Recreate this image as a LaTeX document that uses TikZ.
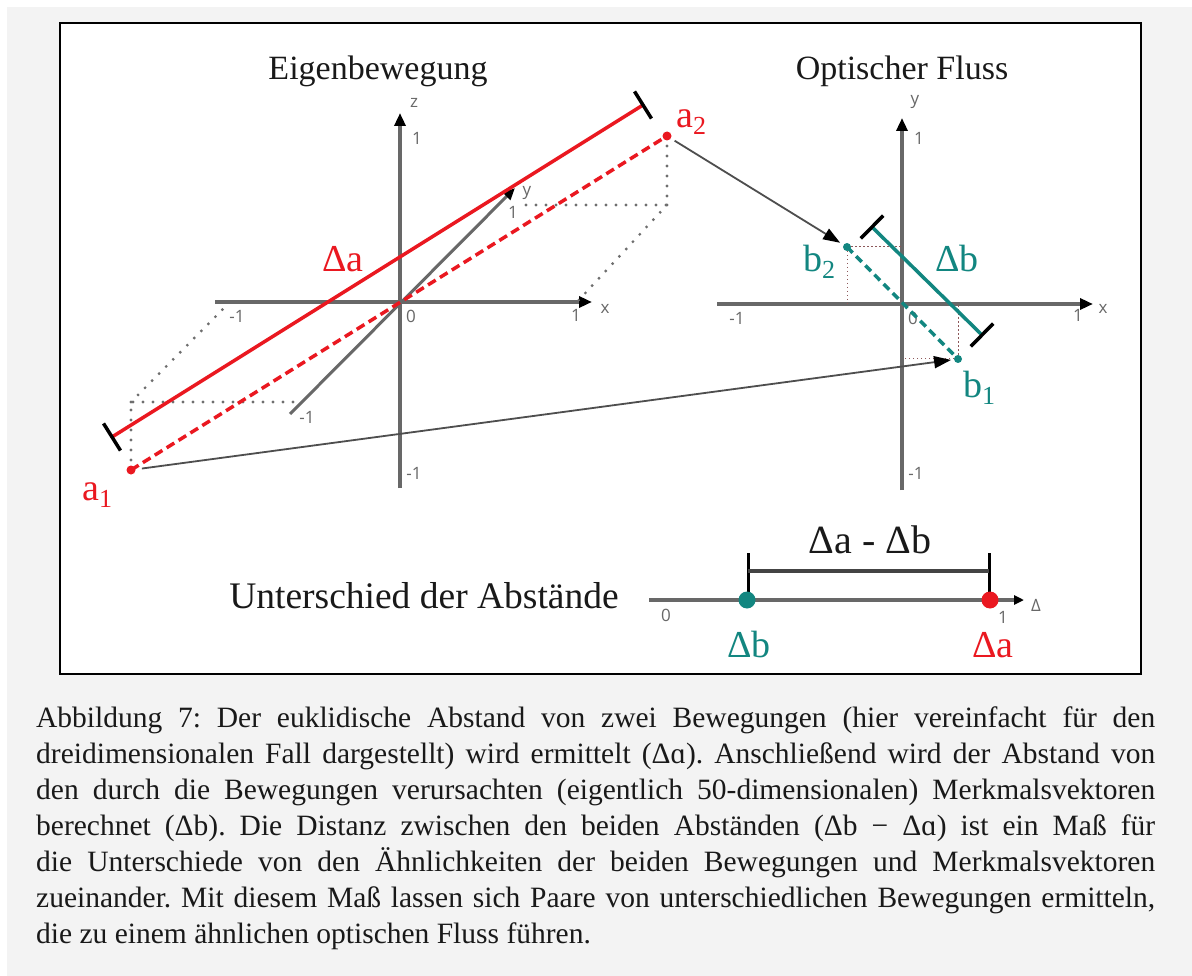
\documentclass[tikz,border=0pt]{standalone}
\usepackage{fontspec}
\setmainfont{Liberation Serif}
\newfontfamily\axisfont{Open Sans}
\usepackage{tikz}
\usetikzlibrary{arrows.meta,calc}

\definecolor{pagegrey}{RGB}{243,243,243}
\definecolor{axisgrey}{RGB}{104,104,104}
\definecolor{dotgrey}{RGB}{110,110,110}
\definecolor{movered}{RGB}{234,24,32}
\definecolor{flowteal}{RGB}{18,134,128}
\definecolor{linkgrey}{RGB}{78,78,78}
\definecolor{bargrey}{RGB}{68,68,68}
\definecolor{textblack}{RGB}{25,25,25}

\newcommand{\subl}[1]{\raisebox{-7pt}{\fontsize{26}{26}\selectfont #1}}
\frenchspacing

\begin{document}
\begin{tikzpicture}[x=1pt,y=-1pt,
  axis/.style={draw=axisgrey,line width=4pt,-{Triangle[length=13pt,width=11pt,color=black]}},
  thinaxis/.style={draw=axisgrey,line width=3pt,-{Triangle[length=12pt,width=10pt,color=black]}},
  ticklbl/.style={inner sep=0pt,text=axisgrey,font=\axisfont\fontsize{17}{19}\selectfont},
  biglbl/.style={inner sep=0pt,anchor=base,font=\fontsize{38}{40}\selectfont},
  titlelbl/.style={inner sep=0pt,anchor=base,text=textblack,font=\fontsize{34}{36}\selectfont},
  guide/.style={draw=dotgrey,line width=3.2pt,line cap=round,dash pattern=on 0pt off 10pt},
  fineguide/.style={draw=dotgrey!75!movered,line width=1pt,dash pattern=on 1.5pt off 2.5pt},
  link/.style={draw=linkgrey,line width=1.8pt,-{Triangle[length=17pt,width=12pt,color=black]}},
  measure/.style={line width=3.5pt},
  endbar/.style={draw=black,line width=3.5pt},
  capline/.style={inner sep=0pt,anchor=base west,text=textblack,font=\fontsize{29.5}{34}\selectfont}]
\path[use as bounding box] (0,0) rectangle (1192,976);
\path[fill=white] (0,0) rectangle (1192,976);
\path[fill=pagegrey] (7,7) rectangle (1192,976);
\path[fill=white,draw=black,line width=1.5pt] (60,23) rectangle (1141,674);

% titles
\node[titlelbl] (titleleft) at (378,80) {Eigenbewegung};
\node[titlelbl] (titleright) at (902,80) {Optischer Fluss};

% left plot: 3D axes
\coordinate (o1) at (400,302);
\draw[axis] (215,302) -- (592,302);
\draw[axis] (400,488) -- (400,113);
\draw[thinaxis] (290,414) -- (515,188);
\node[ticklbl] (lx) at (605,309) {x};
\node[ticklbl] (lx1) at (576,315) {1};
\node[ticklbl] (lx0) at (411,316) {0};
\node[ticklbl] (lxm) at (237,316) {-1};
\node[ticklbl] (lz) at (414,103) {z};
\node[ticklbl] (lz1) at (417,138) {1};
\node[ticklbl] (lzm) at (414,473) {-1};
\node[ticklbl] (ly) at (527,193) {y};
\node[ticklbl] (ly1) at (513,212) {1};
\node[ticklbl] (lym) at (307,417) {-1};

% projections of both motions
\coordinate (a1) at (131,470);
\coordinate (a2) at (667,136);
\coordinate (p1) at (131,402);
\coordinate (p2) at (667,205);
\draw[guide] (a2) -- (p2) -- (523,205);
\draw[guide] (p2) -- (577,302);
\draw[guide] (a1) -- (p1) -- (298,402);
\draw[guide] (p1) -- (228,304);

% distance of the motions
\coordinate (s1) at (112,437);
\coordinate (s2) at (643,105);
\draw[measure,movered] (s1) -- (s2);
\draw[endbar] ($(s1)!16pt!90:(s2)$) -- ($(s1)!16pt!-90:(s2)$);
\draw[endbar] ($(s2)!16pt!90:(s1)$) -- ($(s2)!16pt!-90:(s1)$);
\draw[measure,movered,dash pattern=on 9pt off 5pt] (a1) -- (a2);
\fill[movered] (a1) circle (4.5);
\fill[movered] (a2) circle (4.5);
\node[biglbl,text=movered] (da) at (343,272) {Δa};
\node[biglbl,text=movered,anchor=base west] (la1) at (82,500) {a\subl{1}};
\node[biglbl,text=movered,anchor=base west] (la2) at (676,128) {a\subl{2}};

% right plot: optical flow
\coordinate (o2) at (902,304);
\draw[axis] (717,304) -- (1093,304);
\draw[axis] (902,490) -- (902,118);
\node[ticklbl] (rx) at (1103,309) {x};
\node[ticklbl] (rx1) at (1078,315) {1};
\node[ticklbl] (rx0) at (913,318) {0};
\node[ticklbl] (rxm) at (737,318) {-1};
\node[ticklbl] (ry) at (915,102) {y};
\node[ticklbl] (ry1) at (919,138) {1};
\node[ticklbl] (rym) at (916,473) {-1};

\coordinate (b1) at (958,359);
\coordinate (b2) at (847,247);
\draw[fineguide] (b2) -- (b2 |- o2);
\draw[fineguide] (b2) -- (b2 -| o2);
\draw[fineguide] (b1) -- (b1 |- o2);
\draw[fineguide] (b1) -- (b1 -| o2);

\coordinate (t1) at (872,227);
\coordinate (t2) at (982,335);
\draw[measure,flowteal] (t1) -- (t2);
\draw[endbar] ($(t1)!16pt!90:(t2)$) -- ($(t1)!16pt!-90:(t2)$);
\draw[endbar] ($(t2)!16pt!90:(t1)$) -- ($(t2)!16pt!-90:(t1)$);
\draw[measure,flowteal,dash pattern=on 8pt off 5pt] (b2) -- (b1);
\fill[flowteal] (b1) circle (4);
\fill[flowteal] (b2) circle (4);
\node[biglbl,text=flowteal] (db) at (957,272) {Δb};
\node[biglbl,text=flowteal,anchor=base west] (lb2) at (803,272) {b\subl{2}};
\node[biglbl,text=flowteal,anchor=base west] (lb1) at (963,398) {b\subl{1}};

% motion -> flow
\draw[link,shorten <=9pt,shorten >=8pt] (a2) -- (b2);
\draw[link,shorten <=11pt,shorten >=7pt] (a1) -- (b1);

% difference of the distances
\node[titlelbl,font=\fontsize{37.5}{40}\selectfont] (difftitle) at (424,608) {Unterschied der Abstände};
\coordinate (n0) at (649,600);
\coordinate (n1) at (1024,600);
\draw[draw=axisgrey,line width=3.5pt,-{Triangle[length=10pt,width=9pt,color=black]}] (n0) -- (n1);
\node[ticklbl] (n0lbl) at (666,615) {0};
\node[ticklbl] (n1lbl) at (1003,617) {1};
\node[ticklbl] (ndelta) at (1036,605) {Δ};
\coordinate (bb) at (748,553);
\coordinate (ba) at (989,553);
\draw[endbar,line width=3pt] (bb) -- ++(0,44);
\draw[endbar,line width=3pt] (ba) -- ++(0,44);
\draw[draw=bargrey,line width=4.5pt] ($(bb)+(0,18)$) -- ($(ba)+(0,18)$);
\fill[flowteal] (747,600) circle (8.5);
\fill[movered] (990,600) circle (8.5);
\node[biglbl,text=textblack,font=\fontsize{40}{42}\selectfont] (diff) at (870,553) {Δa - Δb};
\node[biglbl,text=flowteal] (dbot) at (749,657) {Δb};
\node[biglbl,text=movered] (dabot) at (993,657) {Δa};

% caption
\node[capline] (cap1) at (36,727) {\makebox[1119pt][s]{Abbildung 7: Der euklidische Abstand von zwei Bewegungen (hier vereinfacht für den}};
\node[capline] (cap2) at (36,763) {\makebox[1119pt][s]{dreidimensionalen Fall dargestellt) wird ermittelt (Δɑ). Anschließend wird der Abstand von}};
\node[capline] (cap3) at (36,799) {\makebox[1119pt][s]{den durch die Bewegungen verursachten (eigentlich 50-dimensionalen) Merkmalsvektoren}};
\node[capline] (cap4) at (36,835) {\makebox[1119pt][s]{berechnet (Δb). Die Distanz zwischen den beiden Abständen (Δb − Δɑ) ist ein Maß für}};
\node[capline] (cap5) at (36,871) {\makebox[1119pt][s]{die Unterschiede von den Ähnlichkeiten der beiden Bewegungen und Merkmalsvektoren}};
\node[capline] (cap6) at (36,907) {\makebox[1119pt][s]{zueinander. Mit diesem Maß lassen sich Paare von unterschiedlichen Bewegungen ermitteln,}};
\node[capline] (cap7) at (36,943) {die zu einem ähnlichen optischen Fluss führen.};
\end{tikzpicture}
\end{document}
